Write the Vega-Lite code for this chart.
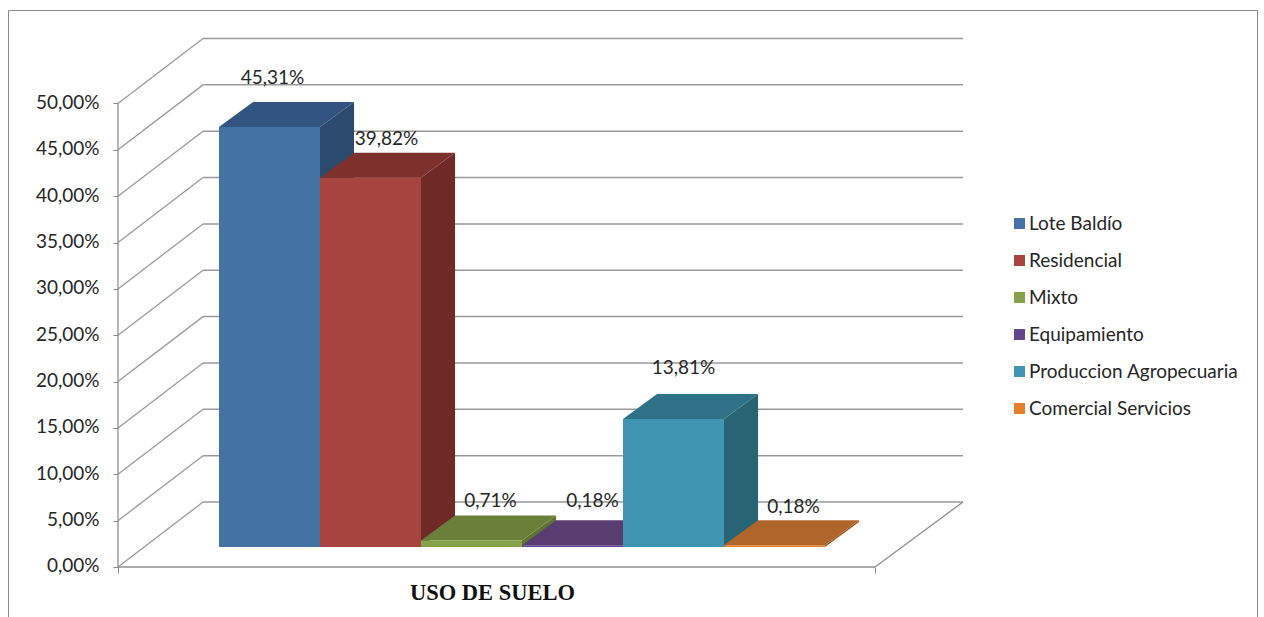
{
 "$schema":"https://vega.github.io/schema/vega-lite/v6.json",
 "width":1249,"height":607,
 "autosize":{"type":"none"},
 "padding":{"left":8,"top":10,"right":7,"bottom":0},
 "background":"white",
 "config":{"view":{"stroke":"#8a8a8a","strokeWidth":1},"font":"Lato"},
 "data":{"values":[
  {"uso":"Lote Baldío","valor":45.31},
  {"uso":"Residencial","valor":39.82},
  {"uso":"Mixto","valor":0.71},
  {"uso":"Equipamiento","valor":0.18},
  {"uso":"Produccion Agropecuaria","valor":13.81},
  {"uso":"Comercial Servicios","valor":0.18}
 ]},
 "transform":[
  {"calculate":"indexof(['Lote Baldío','Residencial','Mixto','Equipamiento','Produccion Agropecuaria','Comercial Servicios'],datum.uso)","as":"i"},
  {"calculate":"datum.i+1","as":"x1"},
  {"calculate":"2.157+datum.valor","as":"tope"},
  {"calculate":"replace(format(datum.valor,'.2f'),'.',',')+'%'","as":"etiqueta"}
 ],
 "layer":[
  {"data":{"values":[{"nivel":0},{"nivel":5},{"nivel":10},{"nivel":15},{"nivel":20},{"nivel":25},{"nivel":30},{"nivel":35},{"nivel":40},{"nivel":45},{"nivel":50}]},
   "transform":[{"calculate":"-1","as":"xa"},{"calculate":"-0.158","as":"xb"},{"calculate":"datum.nivel+7.01","as":"yb"}],
   "mark":{"type":"rule","color":"#9a9a9a","strokeWidth":1.3},
   "encoding":{
    "x":{"field":"xa","type":"quantitative","scale":{"domain":[-2.089,10.277],"nice":false,"zero":false},
     "axis":{"values":[-1,6.495],"labels":false,"domain":false,"grid":false,"ticks":true,"tickSize":6,"tickColor":"#8a8a8a","offset":-50,"title":"USO DE SUELO","titleFont":"Liberation Serif","titleFontWeight":"bold","titleFontSize":22.5,"titleColor":"#111111","titleX":484,"titleY":14,"titleAnchor":"middle"}},
    "x2":{"field":"xb"},
    "y":{"field":"nivel","type":"quantitative","scale":{"domain":[-5.394,60.086],"nice":false,"zero":false},
     "axis":{"values":[0,5,10,15,20,25,30,35,40,45,50],"domain":false,"grid":false,"offset":-110,"tickSize":5,"tickColor":"#8a8a8a","labelPadding":14,"labelOffset":-1,"labelFont":"Lato","labelFontSize":19,"labelColor":"#262626","title":null,"labelExpr":"replace(format(datum.value,'.2f'),'.',',')+'%'"}},
    "y2":{"field":"yb"}
   }},
  {"data":{"values":[{"nivel":0},{"nivel":5},{"nivel":10},{"nivel":15},{"nivel":20},{"nivel":25},{"nivel":30},{"nivel":35},{"nivel":40},{"nivel":45},{"nivel":50}]},
   "transform":[{"calculate":"-0.158","as":"xa"},{"calculate":"7.366","as":"xb"},{"calculate":"datum.nivel+7.01","as":"yb"}],
   "mark":{"type":"rule","color":"#9a9a9a","strokeWidth":1.5},
   "encoding":{
    "x":{"field":"xa","type":"quantitative","axis":null},
    "x2":{"field":"xb"},
    "y":{"field":"yb","type":"quantitative","axis":null}
   }},
  {"data":{"values":[{"xa":-1,"xb":-1,"ya":0,"yb":50},{"xa":-1,"xb":6.495,"ya":0,"yb":0},{"xa":6.495,"xb":7.366,"ya":0,"yb":7.01}]},
   "mark":{"type":"rule","color":"#8f8f8f","strokeWidth":1.3},
   "encoding":{
    "x":{"field":"xa","type":"quantitative","axis":null},
    "x2":{"field":"xb"},
    "y":{"field":"ya","type":"quantitative","axis":null},
    "y2":{"field":"yb"}
   }},
  {"transform":[
    {"calculate":"[0,1]","as":"p"},{"flatten":["p"]},
    {"calculate":"datum.x1+datum.p*0.337","as":"xs"},
    {"calculate":"datum.tope+datum.p*2.697","as":"ys"},
    {"calculate":"2.157+datum.p*2.697","as":"ys2"}],
   "mark":{"type":"area","interpolate":"linear"},
   "encoding":{
    "x":{"field":"xs","type":"quantitative","axis":null},
    "y":{"field":"ys","type":"quantitative","axis":null,"stack":null},
    "y2":{"field":"ys2"},
    "color":{"field":"uso","type":"nominal","legend":null,
     "scale":{"domain":["Lote Baldío","Residencial","Mixto","Equipamiento","Produccion Agropecuaria","Comercial Servicios"],
      "range":["#2C4A6E","#6F2A28","#5E7532","#4A2F5E","#286473","#9A5522"]}}
   }},
  {"transform":[
    {"calculate":"[0,1,2,3]","as":"p"},{"flatten":["p"]},
    {"calculate":"datum.p==0?datum.i:datum.p==1?datum.i+0.337:datum.p==2?datum.x1:datum.x1+0.337","as":"xs"},
    {"calculate":"datum.p==0?datum.tope:datum.tope+2.697","as":"ys"},
    {"calculate":"datum.p==3?datum.tope+2.697:datum.tope","as":"ys2"}],
   "mark":{"type":"area","interpolate":"linear"},
   "encoding":{
    "x":{"field":"xs","type":"quantitative","axis":null},
    "y":{"field":"ys","type":"quantitative","axis":null,"stack":null},
    "y2":{"field":"ys2"},
    "color":{"field":"uso","type":"nominal","legend":null,
     "scale":{"domain":["Lote Baldío","Residencial","Mixto","Equipamiento","Produccion Agropecuaria","Comercial Servicios"],
      "range":["#315480","#7E302C","#6A7F38","#5A3D70","#2F7288","#B0662A"]}}
   }},
  {"transform":[{"calculate":"2.157","as":"base"}],
   "mark":{"type":"rect"},
   "encoding":{
    "x":{"field":"i","type":"quantitative","axis":null},
    "x2":{"field":"x1"},
    "y":{"field":"base","type":"quantitative","axis":null},
    "y2":{"field":"tope"},
    "color":{"field":"uso","type":"nominal",
     "scale":{"domain":["Lote Baldío","Residencial","Mixto","Equipamiento","Produccion Agropecuaria","Comercial Servicios"],
      "range":["#4472A5","#A8443F","#84A24A","#64468E","#4096B2","#E5802C"]},
     "legend":{"title":null,"orient":"none","legendX":1002,"legendY":204,"symbolType":"square","symbolSize":120,"symbolStrokeWidth":0,"symbolOpacity":1,"labelFont":"Lato","labelFontSize":19,"labelColor":"#262626","labelOffset":0,"rowPadding":17,"labelLimit":300}}
   }},
  {"transform":[
    {"calculate":"datum.i+0.5+[3,16,19,20,10,19][datum.i]/101","as":"xl"},
    {"calculate":"datum.tope+[49,39,39,44,51,38][datum.i]/9.27","as":"yl"}],
   "mark":{"type":"text","font":"Lato","fontSize":19,"color":"#262626","baseline":"middle","align":"center"},
   "encoding":{
    "x":{"field":"xl","type":"quantitative","axis":null},
    "y":{"field":"yl","type":"quantitative","axis":null},
    "text":{"field":"etiqueta","type":"nominal"}
   }}
 ],
 "resolve":{"scale":{"color":"independent"},"axis":{"x":"independent","y":"independent"}}
}
